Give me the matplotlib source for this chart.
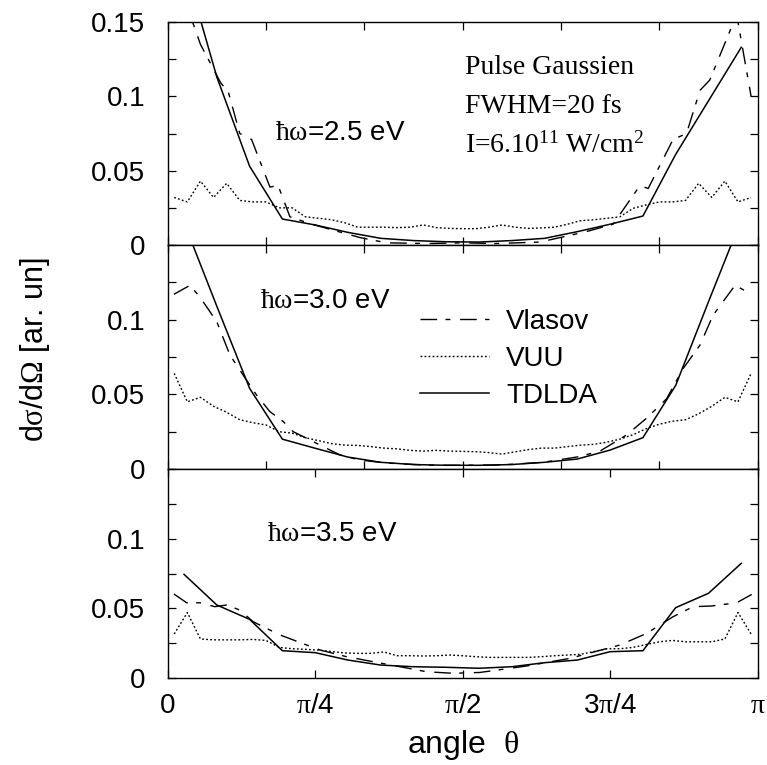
import numpy as np
import matplotlib
matplotlib.use('Agg')
import matplotlib.pyplot as plt
from matplotlib.ticker import MultipleLocator, FuncFormatter

plt.rcParams['font.family'] = ['Liberation Sans', 'DejaVu Sans']
plt.rcParams['mathtext.fontset'] = 'custom'
plt.rcParams['mathtext.rm'] = 'Liberation Serif'
plt.rcParams['mathtext.it'] = 'Liberation Serif:italic'
plt.rcParams['mathtext.default'] = 'rm'

# angles in degrees
tdlda_theta = [5, 15, 25, 35, 45, 55, 65, 75, 85, 95, 105, 115, 125, 135, 145, 155, 165, 175]
vuu_theta = np.arange(2, 180, 4)

# hw = 2.5 eV
tdlda_25 = [0.19, 0.113, 0.053, 0.0175, 0.0135, 0.0085, 0.0045, 0.003, 0.0022, 0.002,
            0.003, 0.0045, 0.009, 0.014, 0.0195, 0.061, 0.097, 0.133]
vlasov_theta_25 = [2, 10, 16.2, 18.5, 22, 25.6, 31.2, 33.7, 37.3, 44, 50.5, 58.7, 66.8, 79,
                   90, 100, 113.6, 119.7, 127.7, 135.9, 144.1, 146.6, 154.2, 158.3, 162.4,
                   165.4, 173.6, 178]
vlasov_25 = [0.185, 0.135, 0.109, 0.103, 0.075, 0.071, 0.039, 0.040, 0.019, 0.014, 0.010,
             0.005, 0.0015, 0.001, 0.0015, 0.001, 0.002, 0.005, 0.009, 0.014, 0.040, 0.038,
             0.071, 0.075, 0.104, 0.111, 0.155, 0.100]
vuu_25 = [0.032, 0.029, 0.043, 0.032, 0.0415, 0.030, 0.029, 0.029, 0.025, 0.025, 0.019,
          0.018, 0.017, 0.015, 0.012, 0.012, 0.012, 0.0117, 0.012, 0.0135, 0.0117, 0.0112,
          0.011, 0.011, 0.012, 0.0135, 0.012, 0.0112, 0.0115, 0.012, 0.014, 0.0164, 0.017,
          0.018, 0.019, 0.0247, 0.027, 0.029, 0.029, 0.030, 0.0415, 0.032, 0.043, 0.029, 0.032]

# hw = 3.0 eV
tdlda_30 = [0.165, 0.109, 0.054, 0.020, 0.0139, 0.008, 0.0045, 0.003, 0.0025, 0.0025,
            0.003, 0.0045, 0.0067, 0.0127, 0.021, 0.056, 0.112, 0.167]
vlasov_theta_30 = [1.9, 6.8, 9.9, 15, 19, 23, 27.1, 31.2, 35.3, 38.3, 42.4, 46.5, 52.6, 58.7,
                   66.8, 79, 90, 101.4, 114.6, 125.3, 131.9, 140, 146.1, 152.2, 157.3, 162.4,
                   166.4, 173.1, 178.2]
vlasov_30 = [0.117, 0.123, 0.115, 0.0986, 0.0763, 0.063, 0.0496, 0.0384, 0.0317, 0.025,
             0.0206, 0.016, 0.0094, 0.006, 0.004, 0.0026, 0.0025, 0.0027, 0.0045, 0.0082,
             0.012, 0.0228, 0.034, 0.047, 0.0674, 0.083, 0.103, 0.123, 0.117]
vuu_30 = [0.064, 0.045, 0.048, 0.042, 0.038, 0.033, 0.031, 0.0295, 0.025, 0.024, 0.021,
          0.019, 0.017, 0.016, 0.0158, 0.015, 0.014, 0.0135, 0.0125, 0.012, 0.0125, 0.012,
          0.0118, 0.0116, 0.011, 0.010, 0.0115, 0.013, 0.014, 0.014, 0.015, 0.016, 0.0165,
          0.018, 0.020, 0.023, 0.027, 0.030, 0.032, 0.033, 0.037, 0.042, 0.048, 0.045, 0.064]

# hw = 3.5 eV
tdlda_35 = [0.0744, 0.0524, 0.0421, 0.0196, 0.0182, 0.0129, 0.0093, 0.0081, 0.0077, 0.007,
            0.0081, 0.011, 0.0129, 0.0189, 0.0196, 0.0505, 0.0608, 0.0823]
vlasov_theta_35 = [1.9, 5.8, 9.9, 14.4, 18, 22, 26.1, 30.1, 34.3, 42.4, 46.5, 54.6, 62.7,
                   70.9, 79, 87.1, 95.3, 109.4, 122.7, 138, 146.1, 154.2, 160.3, 166, 173.6,
                   178.2]
vlasov_35 = [0.0603, 0.054, 0.054, 0.0512, 0.0524, 0.0488, 0.0404, 0.0357, 0.0309, 0.0237,
             0.0201, 0.0153, 0.0117, 0.0081, 0.0045, 0.0034, 0.004, 0.0086, 0.0141, 0.0237,
             0.032, 0.044, 0.0512, 0.0517, 0.054, 0.060]
vuu_35 = [0.0316, 0.047, 0.028, 0.0274, 0.0274, 0.0274, 0.0277, 0.027, 0.022, 0.021, 0.0206,
          0.020, 0.019, 0.018, 0.0177, 0.0177, 0.0187, 0.016, 0.016, 0.0158, 0.016, 0.0165,
          0.016, 0.0153, 0.0148, 0.0148, 0.0148, 0.0148, 0.0153, 0.016, 0.0165, 0.017, 0.019,
          0.021, 0.021, 0.022, 0.024, 0.026, 0.027, 0.026, 0.026, 0.026, 0.028, 0.047, 0.0316]

energies = ['2.5', '3.0', '3.5']
xtick_labels = ['0', r'$\mathrm{\pi}$/4', r'$\mathrm{\pi}$/2', r'3$\mathrm{\pi}$/4', r'$\mathrm{\pi}$']

panels = [
    (tdlda_25, vlasov_theta_25, vlasov_25, vuu_25),
    (tdlda_30, vlasov_theta_30, vlasov_30, vuu_30),
    (tdlda_35, vlasov_theta_35, vlasov_35, vuu_35),
]

def rad(d):
    return np.asarray(d) * np.pi / 180.0

fig = plt.figure(figsize=(7.67, 7.65), dpi=100)
# [left, bottom, width, height] for each panel
rects = [[0.2186, 0.6797, 0.7692, 0.2915],
         [0.2186, 0.3869, 0.7692, 0.2928],
         [0.2186, 0.1137, 0.7692, 0.2732]]
hw_pos = [(0.182, 0.471), (0.156, 0.717), (0.168, 0.656)]

fs = 20
axes = []
for i, (td, vth, vl, vu) in enumerate(panels):
    ax = fig.add_axes(rects[i])
    axes.append(ax)
    ax.plot(rad(vth), vl, color='k', lw=1.0, dashes=[12, 6, 3.5, 7], label='Vlasov')
    ax.plot(rad(vuu_theta), vu, color='k', lw=1.0, dashes=[1.3, 1.6], label='VUU')
    ax.plot(rad(tdlda_theta), td, color='k', lw=1.1, label='TDLDA')
    ax.set_xlim(0, np.pi)
    ax.set_ylim(0, 0.15)
    ax.yaxis.set_major_locator(MultipleLocator(0.025))
    if i == 0:
        ax.yaxis.set_major_formatter(FuncFormatter(
            lambda v, p: ('%g' % round(v, 3)) if abs(v / 0.05 - round(v / 0.05)) < 1e-6 else ''))
    else:
        ax.yaxis.set_major_formatter(FuncFormatter(
            lambda v, p: ('%g' % round(v, 3)) if abs(v / 0.05 - round(v / 0.05)) < 1e-6 and v < 0.14 else ''))
    if i == 2:
        ax.set_xticks(np.arange(5) * np.pi / 4)
        ax.set_xticklabels(xtick_labels)
    else:
        ax.set_xticks(np.arange(7) * np.pi / 6)
        ax.set_xticklabels([])
    ax.tick_params(direction='in', top=True, right=True, length=6, width=0.9,
                   labelsize=fs, pad=11)
    ax.tick_params(axis='y', pad=16)
    for s in ax.spines.values():
        s.set_linewidth(1.0)
    ax.text(hw_pos[i][0], hw_pos[i][1], r'$\hbar\omega$=' + energies[i] + ' eV',
            transform=ax.transAxes, fontsize=fs, va='baseline', ha='left')

axes[0].text(0.504, 0.767, 'Pulse Gaussien', transform=axes[0].transAxes,
             fontsize=fs, family='Liberation Serif', va='baseline')
axes[0].text(0.504, 0.59, 'FWHM=20 fs', transform=axes[0].transAxes,
             fontsize=fs, family='Liberation Serif', va='baseline')
axes[0].text(0.504, 0.414, r'I=6.10$^{11}$ W/cm$^{2}$', transform=axes[0].transAxes,
             fontsize=fs, family='Liberation Serif', va='baseline')

axes[1].legend(loc='upper left', bbox_to_anchor=(0.4276, 0.715), frameon=False,
               fontsize=fs, handlelength=2.5, handletextpad=0.6, labelspacing=0.4,
               borderpad=0, borderaxespad=0)

fig.text(0.046, 0.5425, r'd$\sigma$/d$\Omega$ [ar. un]', rotation=90, fontsize=22,
         ha='center', va='center')
fig.text(0.604, 0.026, r'angle  $\theta$', fontsize=23, ha='center', va='center')

fig.savefig('out.png', dpi=100)
